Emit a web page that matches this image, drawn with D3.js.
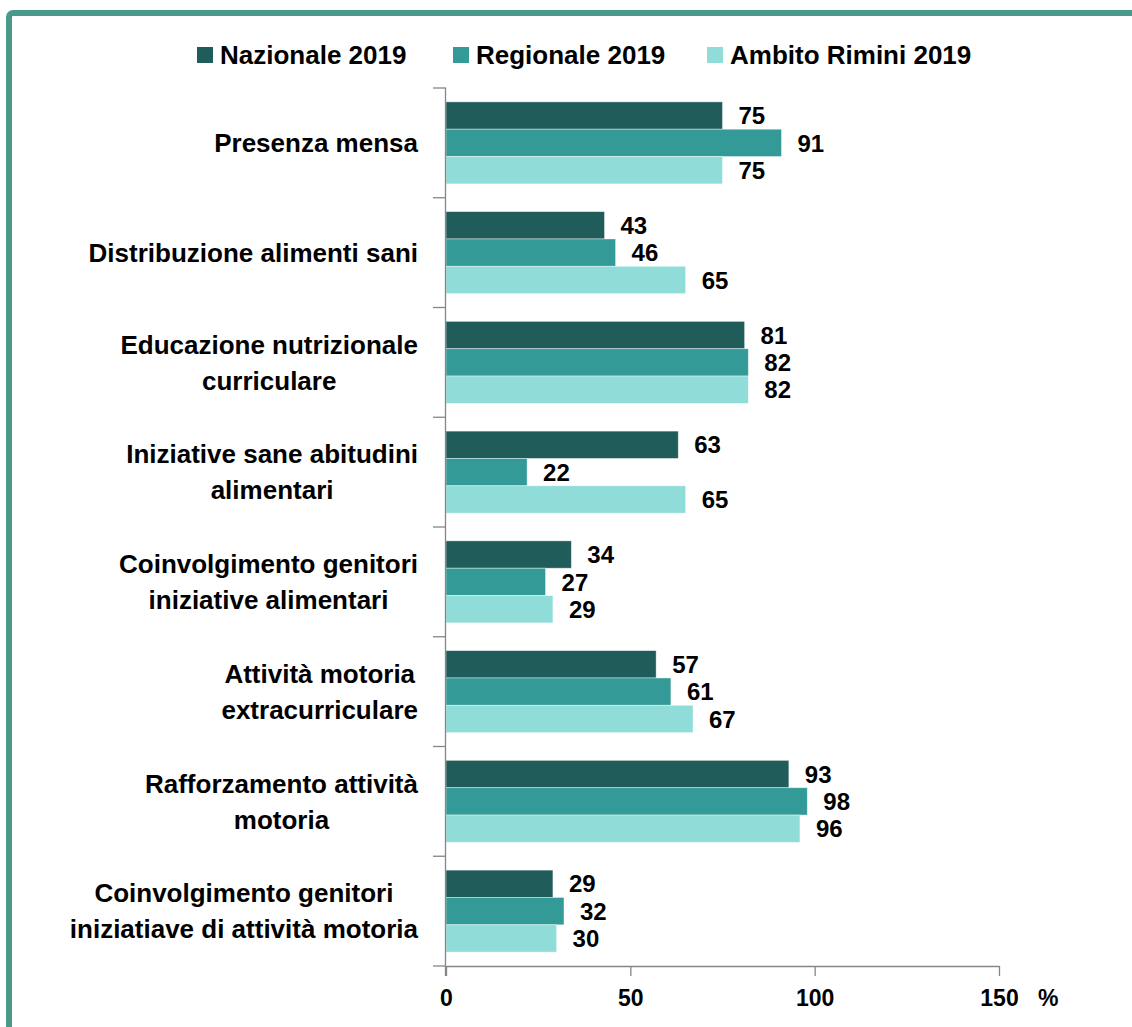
<!DOCTYPE html>
<html>
<head>
<meta charset="utf-8">
<script src="https://cdn.jsdelivr.net/npm/d3@7"></script>
<style>
  body { margin: 0; background: #fff; }
  text { font-family: "Liberation Sans", Arial, sans-serif; font-weight: bold; fill: #000; }
</style>
</head>
<body>
<svg id="chart" width="1132" height="1027"></svg>
<script>
// Chart data
const categories = [
  "Presenza mensa",
  "Distribuzione alimenti sani",
  "Educazione nutrizionale|curriculare",
  "Iniziative sane abitudini|alimentari",
  "Coinvolgimento genitori|iniziative alimentari",
  "Attività motoria|extracurriculare",
  "Rafforzamento attività|motoria",
  "Coinvolgimento genitori|iniziatiave di attività motoria"
];
const seriesNames = ["Nazionale 2019", "Regionale 2019", "Ambito Rimini 2019"];
const nazionale = [75, 43, 81, 63, 34, 57, 93, 29];
const regionale = [91, 46, 82, 22, 27, 61, 98, 32];
const rimini    = [75, 65, 82, 65, 29, 67, 96, 30];
const xTicks = [0, 50, 100, 150];

const seriesValues = [nazionale, regionale, rimini];
const colors = ["#1f5c5a", "#339a98", "#8fdcd9"];

const svg = d3.select("#chart");

// teal frame around the chart (runs off the right and bottom edges)
svg.append("rect")
  .attr("x", 9).attr("y", 13)
  .attr("width", 1200).attr("height", 1100)
  .attr("rx", 4)
  .attr("fill", "none")
  .attr("stroke", "#4a9a8c")
  .attr("stroke-width", 6);

const x = d3.scaleLinear().domain([0, 150]).range([446, 999]);
const y = d3.scaleBand().domain(categories).range([88, 966])
  .paddingInner(0.2528).paddingOuter(0.1264);
const ySub = d3.scaleBand().domain([0, 1, 2]).range([0, y.bandwidth()]);

const axisColor = "#868686";

// bars
seriesValues.forEach((vals, s) => {
  const g = svg.append("g");
  g.selectAll("rect").data(vals).join("rect")
    .attr("x", x(0))
    .attr("y", (d, i) => y(categories[i]) + ySub(s))
    .attr("width", d => x(d) - x(0))
    .attr("height", ySub.bandwidth())
    .attr("fill", colors[s])
    .attr("stroke", "rgba(255,255,255,0.5)")
    .attr("stroke-width", 0.8);

  g.selectAll("text").data(vals).join("text")
    .attr("x", d => x(d) + 16)
    .attr("y", (d, i) => y(categories[i]) + ySub(s) + ySub.bandwidth() / 2)
    .attr("dy", "0.36em")
    .style("font-size", "24px")
    .text(d => d);
});

// y axis line + category boundary ticks
const yAxis = svg.append("g").attr("stroke", axisColor).attr("stroke-width", 1.3);
yAxis.append("line")
  .attr("x1", x(0) - 0.5).attr("x2", x(0) - 0.5)
  .attr("y1", y.range()[0]).attr("y2", y.range()[1] + 10);
yAxis.selectAll(".tk").data(d3.range(categories.length + 1)).join("line")
  .attr("x1", x(0) - 13).attr("x2", x(0))
  .attr("y1", i => y.range()[0] + i * y.step())
  .attr("y2", i => y.range()[0] + i * y.step());

// x axis
const xAxis = svg.append("g")
  .attr("transform", `translate(0,${y.range()[1]})`)
  .call(d3.axisBottom(x).tickValues(xTicks).tickSize(10).tickSizeOuter(0).tickPadding(14));
xAxis.selectAll("path, line").attr("stroke", axisColor).attr("stroke-width", 1.3);
xAxis.selectAll("text")
  .style("font-size", "23px")
  .style("font-family", "\"Liberation Sans\", Arial, sans-serif")
  .style("font-weight", "bold")
  .attr("fill", "#000");

svg.append("text")
  .attr("x", 1038).attr("y", 1006)
  .style("font-size", "23px")
  .text("%");

// category labels: lines centred on each other, widest line right-aligned
const labelRight = 418;
const lineGap = 36;
categories.forEach(c => {
  const lines = c.split("|");
  const cy = y(c) + y.bandwidth() / 2;
  const t = svg.append("text")
    .attr("text-anchor", "middle")
    .style("font-size", "26px");
  lines.forEach((ln, k) => {
    t.append("tspan")
      .attr("y", cy + (k - (lines.length - 1) / 2) * lineGap)
      .attr("dy", "0.36em")
      .text(ln);
  });
  let w = 0;
  t.selectAll("tspan").each(function () { w = Math.max(w, this.getComputedTextLength()); });
  t.selectAll("tspan").attr("x", labelRight - w / 2);
});

// legend
const legendX = [197, 453, 707];
const legend = svg.append("g");
seriesNames.forEach((name, s) => {
  legend.append("rect")
    .attr("x", legendX[s]).attr("y", 47)
    .attr("width", 16).attr("height", 16)
    .attr("fill", colors[s]);
  legend.append("text")
    .attr("x", legendX[s] + 23).attr("y", 55)
    .attr("dy", "0.36em")
    .style("font-size", "26px")
    .text(name);
});
</script>
</body>
</html>
